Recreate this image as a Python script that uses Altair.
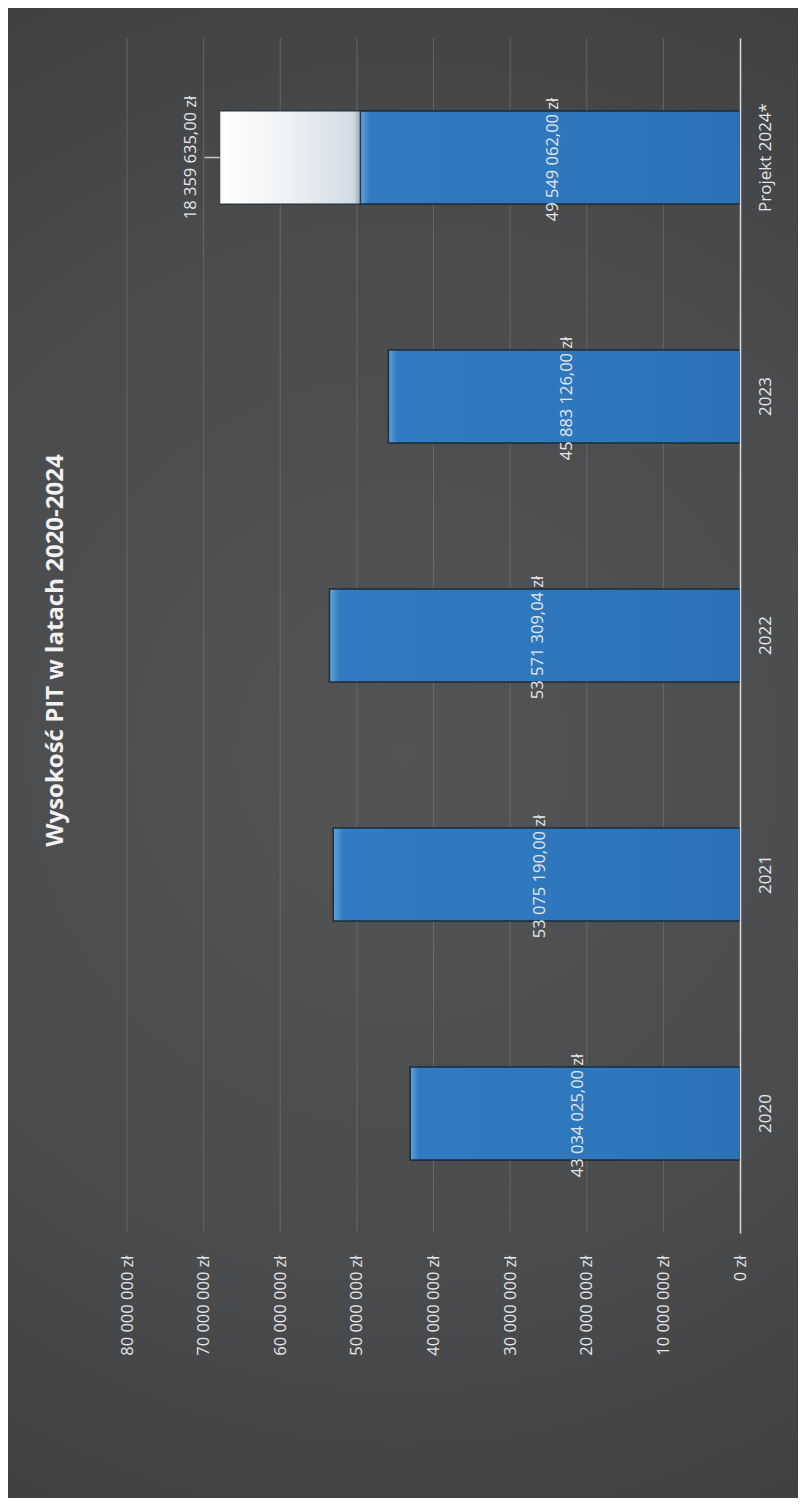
import altair as alt
import pandas as pd

# ---- data ----
categories = ["2020", "2021", "2022", "2023", "Projekt 2024*"]
pit_values = [43034025.00, 53075190.00, 53571309.04, 45883126.00, 49549062.00]
projekt_extra_category = "Projekt 2024*"
projekt_extra_value = 18359635.00
axis_ticks = [0, 10000000, 20000000, 30000000, 40000000, 50000000, 60000000, 70000000, 80000000]
title_text = "Wysokość PIT w latach 2020-2024"


def pl_money(v):
    s = f"{v:,.2f}".replace(",", " ").replace(".", ",")
    return s + " zł"


rows = []
for c, v in zip(categories, pit_values):
    rows.append({"kat": c, "start": 0.0, "end": v, "mid": v / 2, "seria": "wykonanie", "label": pl_money(v)})
base_2024 = pit_values[categories.index(projekt_extra_category)]
rows.append({"kat": projekt_extra_category, "start": base_2024, "end": base_2024 + projekt_extra_value,
             "mid": base_2024 + projekt_extra_value, "seria": "projekt", "label": pl_money(projekt_extra_value)})
df = pd.DataFrame(rows)
grid_df = pd.DataFrame({"v": [t for t in axis_ticks if t > 0]})

FONT = "Open Sans"
TXT = "#e4e6e8"
BG = "#37393b"
order = list(reversed(categories))

W, H = 613, 1195
PAD = {"left": 119, "top": 30, "right": 58, "bottom": 265}

y_enc = alt.Y("kat:N", sort=order,
              scale=alt.Scale(paddingInner=0.61, paddingOuter=0.305),
              axis=alt.Axis(orient="right", title=None, labelAngle=270, labelAlign="center",
                            labelBaseline="top", labelPadding=17, labelFont=FONT, labelFontSize=17,
                            labelColor=TXT, domain=True, domainColor="#d8dadc", domainWidth=1.5,
                            ticks=False, grid=False, zindex=1))

x_scale = alt.Scale(domain=[0, 80000000], reverse=True, nice=False, zero=True)

# whole-canvas backdrop with a soft vignette
backdrop = alt.Chart(pd.DataFrame({"bg": [0]})).mark_rect(
    color={"gradient": "radial", "x1": 0.5, "y1": 0.5, "r1": 0, "x2": 0.5, "y2": 0.5, "r2": 0.72,
           "stops": [{"offset": 0, "color": "#535455"},
                     {"offset": 0.5, "color": "#4a4b4c"},
                     {"offset": 1, "color": BG}]}
).encode(x=alt.value(-PAD["left"]), x2=alt.value(W + PAD["right"]),
         y=alt.value(-PAD["top"]), y2=alt.value(H + PAD["bottom"]))

grid = alt.Chart(grid_df).mark_rule(color="#7b7d7f", strokeWidth=1, opacity=0.55).encode(
    x=alt.X("v:Q", scale=x_scale), y=alt.value(0), y2=alt.value(H))

base = alt.Chart(df)

bars_blue = base.transform_filter(alt.datum.seria == "wykonanie").mark_bar(
    color={"gradient": "linear", "x1": 0, "x2": 1, "y1": 0, "y2": 0,
           "stops": [{"offset": 0, "color": "#62a4dc"},
                     {"offset": 0.025, "color": "#307bc1"},
                     {"offset": 0.6, "color": "#2e77bc"},
                     {"offset": 1, "color": "#2b72b5"}]},
    stroke="#15202a", strokeWidth=1.5, strokeOpacity=0.85
).encode(
    x=alt.X("start:Q", scale=x_scale,
            axis=alt.Axis(values=axis_ticks, orient="bottom", title=None, labelAngle=270,
                          labelAlign="right", labelBaseline="middle", labelPadding=22,
                          labelFont=FONT, labelFontSize=16.5, labelColor=TXT,
                          labelExpr="replace(format(datum.value, ',d'), /,/g, ' ') + ' zł'",
                          grid=False, domain=False, ticks=False, zindex=1)),
    x2="end:Q",
    y=y_enc,
)

bars_proj = base.transform_filter(alt.datum.seria == "projekt").mark_bar(
    color={"gradient": "linear", "x1": 0, "x2": 1, "y1": 0, "y2": 0,
           "stops": [{"offset": 0, "color": "#ffffff"},
                     {"offset": 0.45, "color": "#f0f3f6"},
                     {"offset": 0.95, "color": "#d2dce6"},
                     {"offset": 1, "color": "#9aa6b2"}]},
    stroke="#15202a", strokeWidth=1.5, strokeOpacity=0.6
).encode(x=alt.X("start:Q", scale=x_scale), x2="end:Q", y=y_enc)

labels_in = base.transform_filter(alt.datum.seria == "wykonanie").mark_text(
    angle=270, align="center", baseline="middle", font=FONT, fontSize=16.5, color=TXT, dx=-2, dy=3
).encode(x=alt.X("mid:Q", scale=x_scale), y=y_enc, text="label:N")

labels_out = base.transform_filter(alt.datum.seria == "projekt").mark_text(
    angle=270, align="center", baseline="middle", font=FONT, fontSize=16.5, color=TXT, dy=-29
).encode(x=alt.X("mid:Q", scale=x_scale), y=y_enc, text="label:N")

leader = base.transform_filter(alt.datum.seria == "projekt").mark_rule(
    color="#c8cacc", strokeWidth=1.5, x2Offset=-15
).encode(x=alt.X("end:Q", scale=x_scale), x2="end:Q", y=y_enc)

chart = alt.layer(backdrop, grid, bars_blue, bars_proj, labels_in, labels_out, leader).properties(
    width=W, height=H,
    autosize=alt.AutoSizeParams(type="none"),
    padding=PAD,
    background=BG,
    title=alt.TitleParams(title_text, orient="left", anchor="middle", font=FONT, fontSize=24,
                          fontWeight="bold", color="#f2f2f2", offset=-60, dx=-15, zindex=1),
).configure_view(stroke=None)

chart.save("out.html", embed_options={"renderer": "svg", "actions": False})
